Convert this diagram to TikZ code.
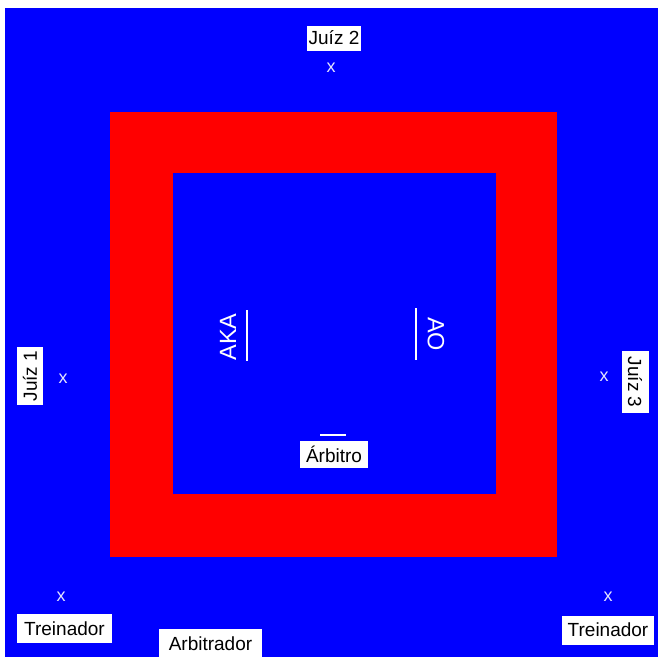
\documentclass[tikz,border=0pt]{standalone}
\usepackage{fontspec}
\setmainfont{Liberation Sans}
\definecolor{matblue}{HTML}{0000FF}
\definecolor{matred}{HTML}{FF0000}
\definecolor{markcol}{HTML}{E4E4FF}
\begin{document}
\begin{tikzpicture}[x=1pt,y=-1pt,
  label box/.style={fill=white, text=black, inner sep=0pt, font=\fontsize{19}{19}\selectfont},
  position mark/.style={text=markcol, inner sep=0pt, font=\fontsize{18}{18}\selectfont},
  side label/.style={text=white, inner sep=0pt, font=\fontsize{23.5}{23.5}\selectfont},
  mark line/.style={draw=white, line width=2.5pt}]
\useasboundingbox (0,0) rectangle (658,657);
\fill[white] (0,0) rectangle (658,657);
\fill[matblue] (5,8) rectangle (658,657);
\fill[matred] (110,112) rectangle (557,557);
\fill[matblue] (173,173) rectangle (496,494);
% judges
\node[label box, minimum width=54pt, minimum height=25pt] (j2) at (334,38) {Juíz 2};
\node[position mark] (j2x) at (331,68) {x};
\node[label box, rotate=90, minimum width=58pt, minimum height=26pt] (j1) at (30,376) {Juíz 1};
\node[position mark] (j1x) at (63,379) {x};
\node[label box, rotate=-90, minimum width=62pt, minimum height=27pt] (j3) at (635,382) {Juíz 3};
\node[position mark] (j3x) at (604,377) {x};
% fighters
\node[side label, rotate=90] (aka) at (228,337) {AKA};
\coordinate (akaT) at (247,310);
\coordinate (akaB) at (247,361);
\draw[mark line] (akaT) -- (akaB);
\node[side label, rotate=-90] (ao) at (436,334) {AO};
\coordinate (aoT) at (416,308);
\coordinate (aoB) at (416,360);
\draw[mark line] (aoT) -- (aoB);
% referee
\coordinate (refL) at (320,435);
\coordinate (refR) at (346,435);
\draw[mark line] (refL) -- (refR);
\node[label box, minimum width=68pt, minimum height=27pt] (ref) at (334,454) {Árbitro};
% coaches
\node[position mark] (t1x) at (61,597) {x};
\node[label box, minimum width=95pt, minimum height=29pt] (t1) at (64.5,628.5) {Treinador};
\node[position mark] (t2x) at (608,597) {x};
\node[label box, minimum width=92pt, minimum height=29pt] (t2) at (608,630) {Treinador};
\node[label box, minimum width=103pt, minimum height=29pt] (arb) at (210.5,643.5) {Arbitrador};
\end{tikzpicture}
\end{document}
